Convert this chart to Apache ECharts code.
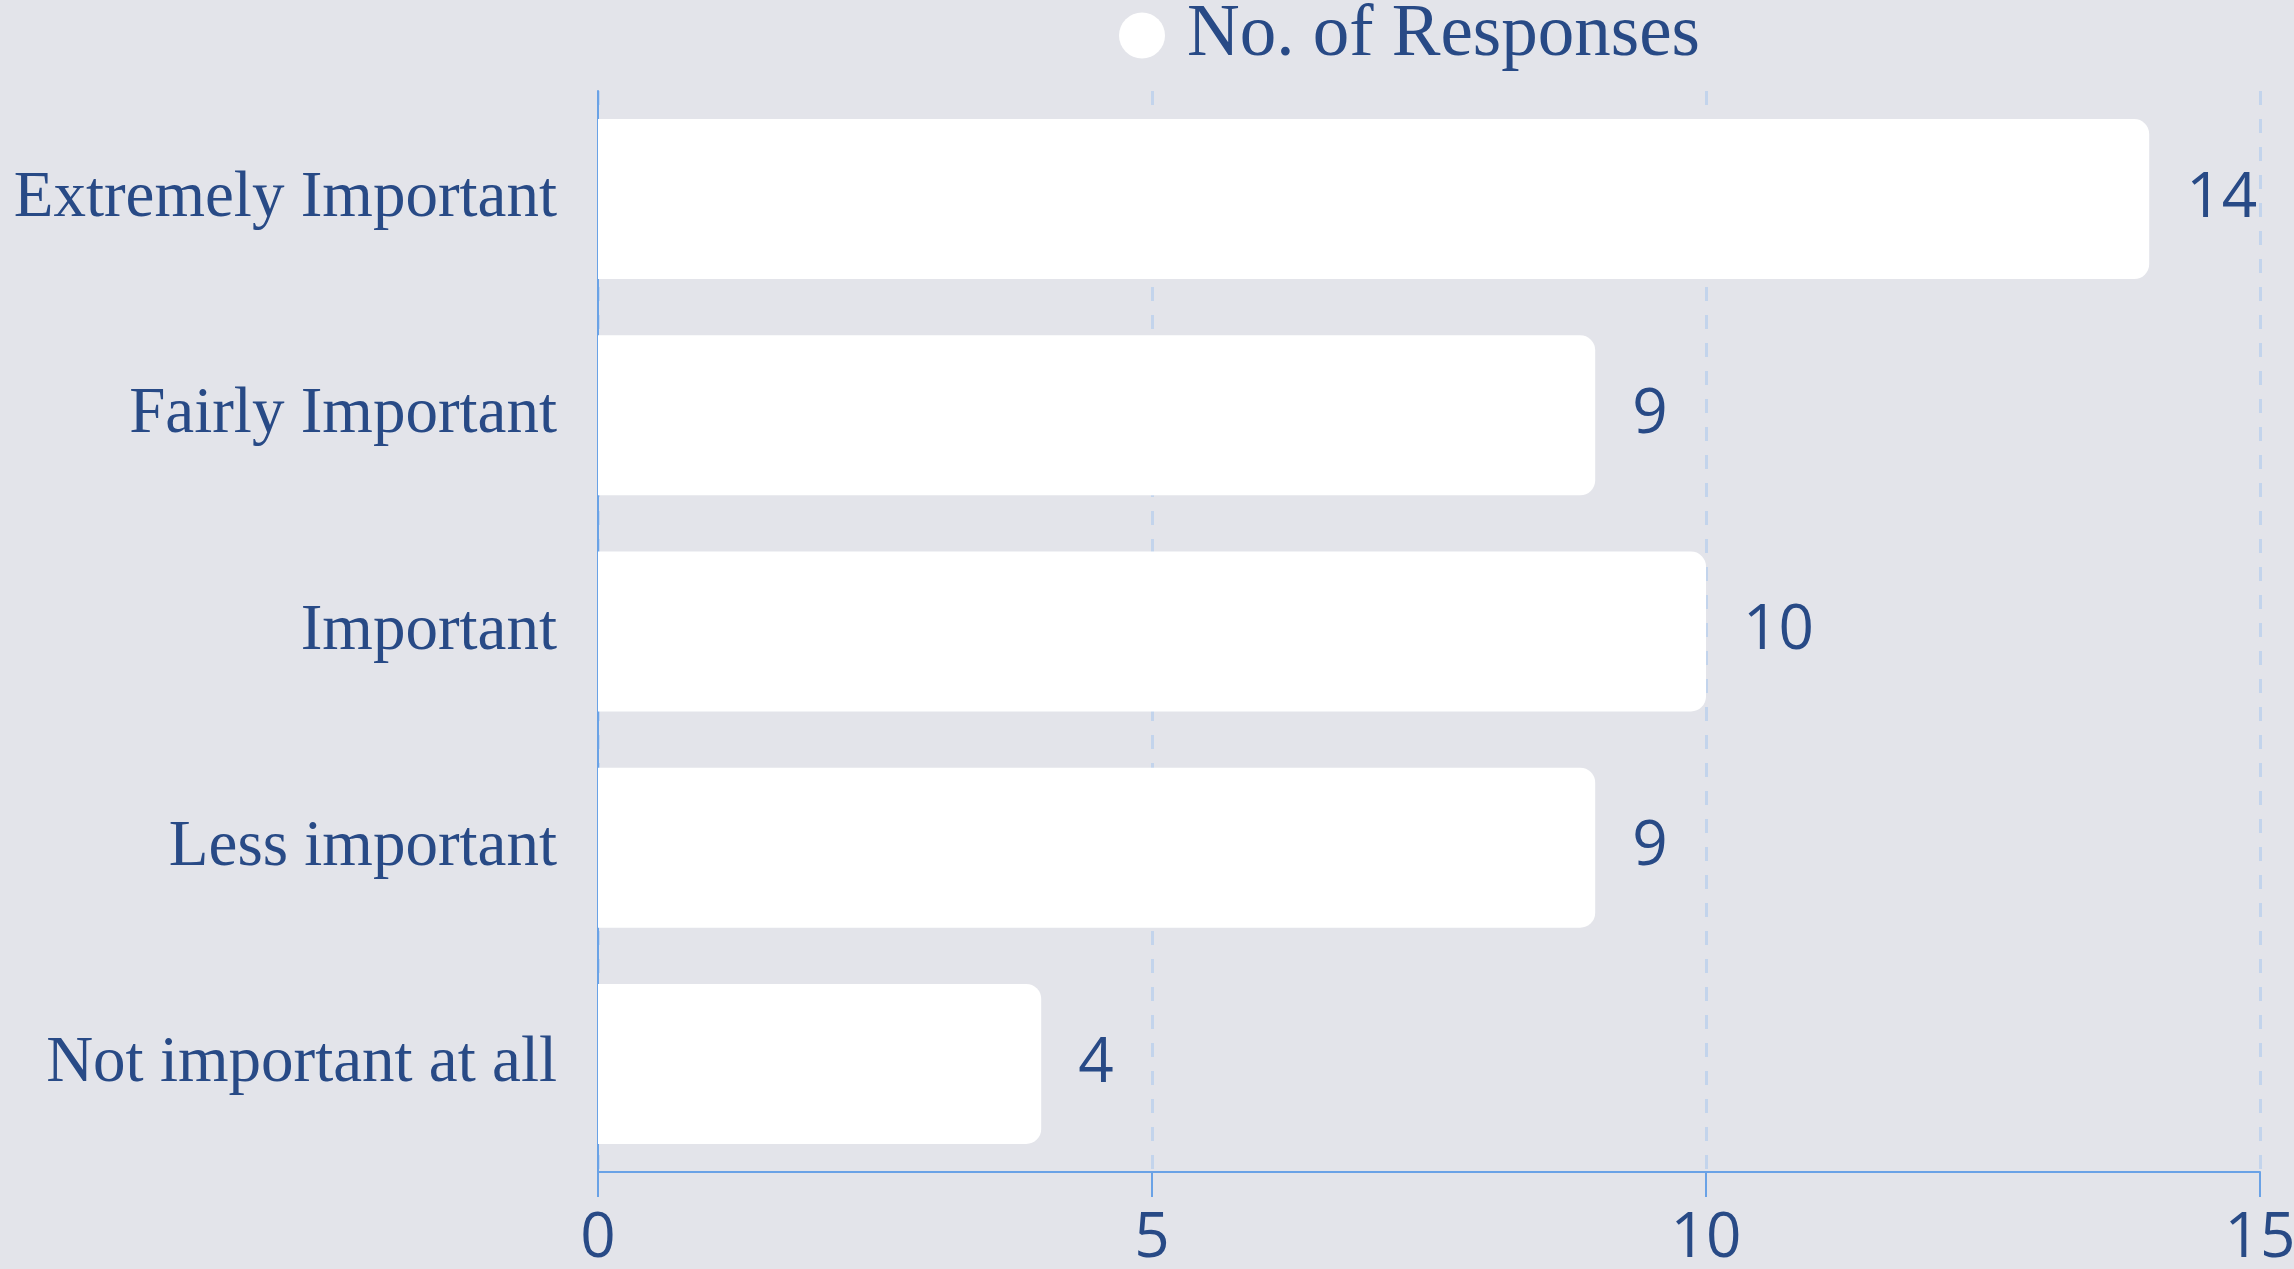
<!DOCTYPE html>
<html>
<head>
    <meta charset="utf-8">
    <title>ECharts</title>
    <script src="https://cdn.jsdelivr.net/npm/echarts@6/dist/echarts.min.js"></script>
    <style>
        html, body { margin: 0; padding: 0; background: #e3e4ea; }
    </style>
</head>
<body>
<div id="main" style="width: 2294px;height:1269px;"></div>
<script type="text/javascript">
    // 类别（自上而下）
    var categories = ['Extremely Important', 'Fairly Important', 'Important', 'Less important', 'Not important at all']
    // 回答数
    var responses = [14, 9, 10, 9, 4]
    var seriesName = 'No. of Responses'
    var xTicks = [0, 5, 10, 15]

    var textColor = '#284a86'
    var axisColor = '#6aa2e6'

    var myChart = echarts.init(document.getElementById('main'));

    var option = {
        backgroundColor: '#e3e4ea',
        animation: false,
        legend: {
            data: [seriesName],
            left: 1114,
            top: -6,
            icon: 'circle',
            itemWidth: 80,
            itemHeight: 46,
            itemGap: 5,
            textStyle: {
                color: textColor,
                fontFamily: 'Liberation Serif',
                fontSize: 73
            }
        },
        grid: {
            left: 598,
            right: 34,
            top: 91,
            bottom: 97,
            containLabel: false,
            outerBoundsMode: 'none'
        },
        xAxis: {
            type: 'value',
            min: xTicks[0],
            max: xTicks[xTicks.length - 1],
            interval: 5,
            axisLine: { show: true, lineStyle: { color: axisColor, width: 2 } },
            axisTick: { show: true, length: 25, lineStyle: { color: axisColor, width: 2 } },
            axisLabel: {
                color: textColor,
                fontFamily: 'Open Sans',
                fontSize: 62,
                margin: 36
            },
            splitLine: { show: true, lineStyle: { color: '#c3d4ec', width: 3, type: [14, 14] } }
        },
        yAxis: {
            type: 'category',
            data: categories,
            inverse: true,
            axisLine: { show: true, lineStyle: { color: axisColor, width: 2 } },
            axisTick: { show: false },
            axisLabel: {
                color: textColor,
                fontFamily: 'Liberation Serif',
                fontSize: 65,
                margin: 41
            }
        },
        series: [{
            name: seriesName,
            type: 'bar',
            data: responses,
            barCategoryGap: '26%',
            itemStyle: { color: '#ffffff', borderRadius: [0, 15, 15, 0] },
            label: {
                show: true,
                position: 'right',
                distance: 37,
                color: textColor,
                fontFamily: 'Open Sans',
                fontSize: 62
            }
        }]
    };

    myChart.setOption(option)
</script>
</body>
</html>
